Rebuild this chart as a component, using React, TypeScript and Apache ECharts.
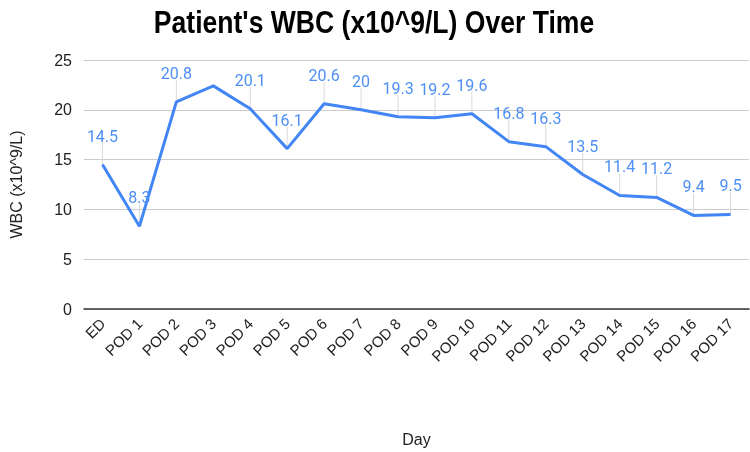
import React, { useEffect, useRef } from "react";
import * as echarts from "echarts";

const categories = ["ED", "POD 1", "POD 2", "POD 3", "POD 4", "POD 5", "POD 6", "POD 7", "POD 8", "POD 9", "POD 10", "POD 11", "POD 12", "POD 13", "POD 14", "POD 15", "POD 16", "POD 17"];
const wbcValues = [14.5, 8.3, 20.8, 22.4, 20.1, 16.1, 20.6, 20, 19.3, 19.2, 19.6, 16.8, 16.3, 13.5, 11.4, 11.2, 9.4, 9.5];
// indices whose data label is not drawn in the reference
const hiddenLabels = [3];
const yTicks = { min: 0, max: 25, interval: 5 };
const titleText = "Patient's WBC (x10^9/L) Over Time";

export default function App() {
  const ref = useRef<HTMLDivElement>(null);
  useEffect(() => {
    if (!ref.current) return;
    const chart = echarts.init(ref.current, undefined, { renderer: "svg" });
    const labelDist = 20;
    const lineData = wbcValues.map((v, i) =>
      hiddenLabels.includes(i) ? { value: v, label: { show: false } } : v
    );
    const leaderData = wbcValues.map((v, i) => [i, v, hiddenLabels.includes(i) ? 0 : 1]);
    chart.setOption({
      animation: false,
      graphic: [
        {
          type: "text",
          x: 374,
          y: 22,
          scaleX: 0.83,
          style: {
            text: titleText,
            font: "bold 32px 'Liberation Sans', Arial, sans-serif",
            fill: "#000",
            textAlign: "center",
            textVerticalAlign: "middle",
          },
        },
      ],
      grid: { left: 79, right: 1, top: 60, bottom: 143 },
      xAxis: {
        type: "category",
        data: categories,
        boundaryGap: true,
        name: "Day",
        nameLocation: "middle",
        nameGap: 122,
        nameTextStyle: { fontFamily: "Liberation Sans", fontSize: 16, color: "#222" },
        axisLine: { show: true, lineStyle: { color: "#333", width: 1.5 } },
        axisTick: { show: false },
        axisLabel: { interval: 0, rotate: 45, margin: 12, fontFamily: "Liberation Sans", fontSize: 15, color: "#222" },
        splitLine: { show: false },
      },
      yAxis: {
        type: "value",
        min: yTicks.min,
        max: yTicks.max,
        interval: yTicks.interval,
        name: "WBC (x10^9/L)",
        nameLocation: "middle",
        nameGap: 60,
        nameTextStyle: { fontFamily: "Liberation Sans", fontSize: 16, color: "#222" },
        axisLine: { show: false },
        axisTick: { show: false },
        axisLabel: { margin: 12, fontFamily: "Liberation Sans", fontSize: 16, color: "#222" },
        splitLine: { lineStyle: { color: "#cccccc", width: 1 } },
      },
      series: [
        {
          type: "custom",
          z: 1,
          silent: true,
          data: leaderData,
          renderItem: (params: any, api: any) => {
            if (api.value(2) === 0) return null;
            const p = api.coord([api.value(0), api.value(1)]);
            return {
              type: "line",
              shape: { x1: p[0], y1: p[1], x2: p[0], y2: p[1] - labelDist - 2 },
              style: { stroke: "#d9d9d9", lineWidth: 1 },
            };
          },
        },
        {
          type: "line",
          z: 3,
          data: lineData,
          symbol: "circle",
          symbolSize: 1,
          itemStyle: { color: "rgba(0,0,0,0)" },
          lineStyle: { color: "#4285f4", width: 3 },
          label: {
            show: true,
            position: "top",
            distance: labelDist,
            fontFamily: "Roboto",
            fontSize: 16,
            color: "#4d8ff5",
          },
        },
      ],
    });
    return () => chart.dispose();
  }, []);
  return <div ref={ref} style={{ position: "fixed", left: 0, top: 0, width: 750, height: 452 }} />;
}
